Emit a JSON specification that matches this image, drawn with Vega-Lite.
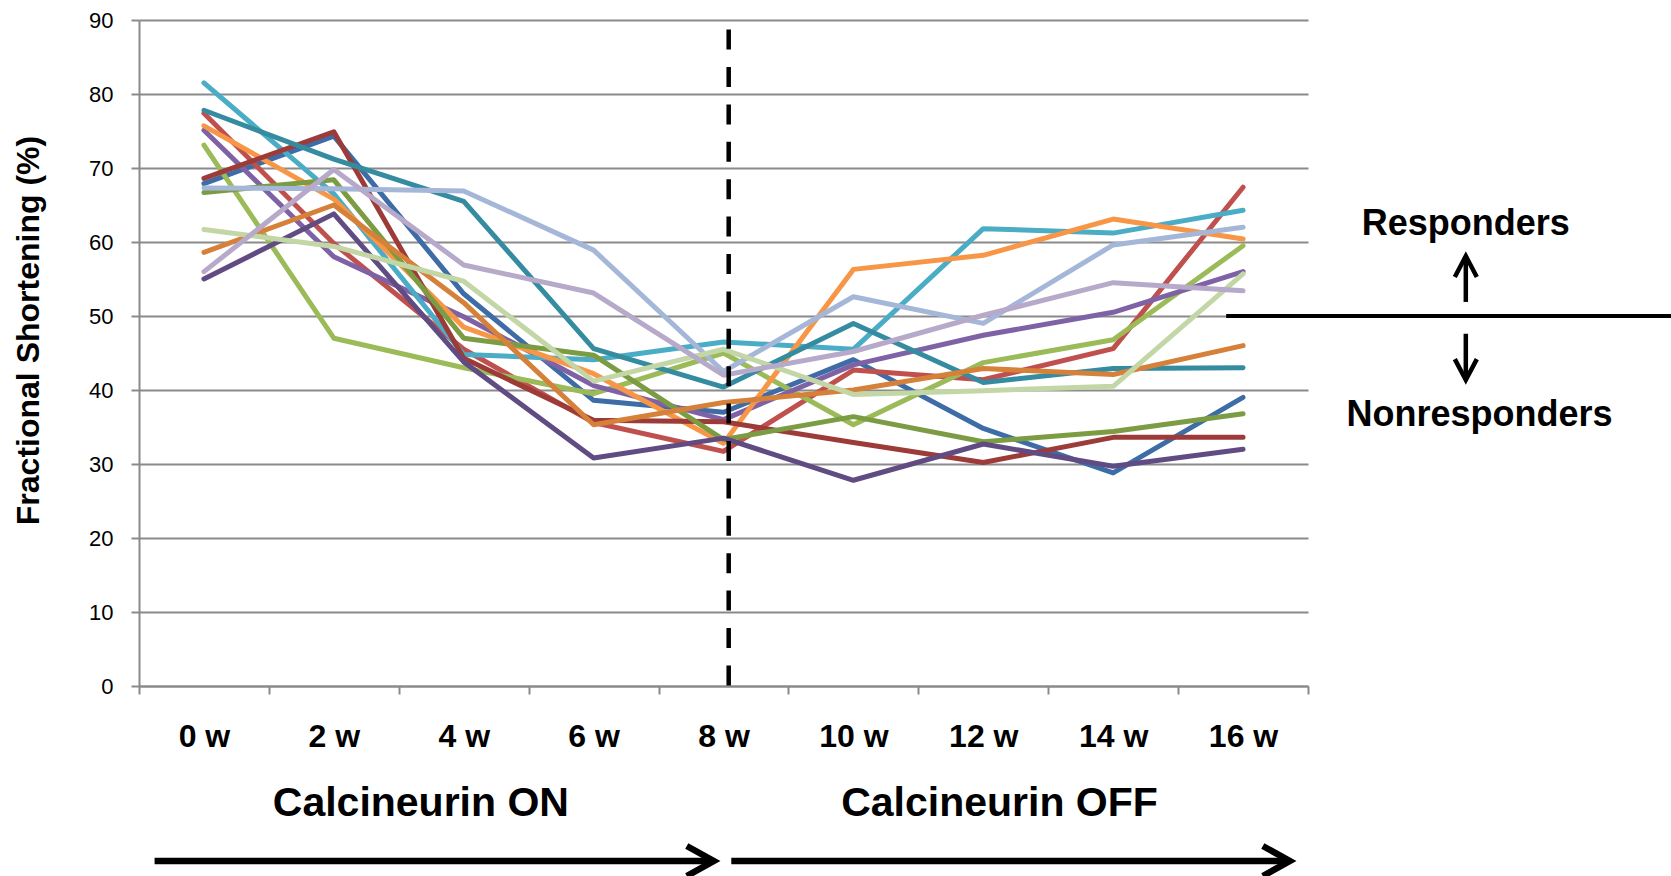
{
  "$schema": "https://vega.github.io/schema/vega-lite/v6.json",
  "width": 1169,
  "height": 666,
  "autosize": "none",
  "padding": {"left": 139, "top": 20, "right": 363, "bottom": 190},
  "background": "white",
  "config": {
    "view": {"stroke": null},
    "font": "Liberation Sans",
    "text": {"font": "Liberation Sans", "fontWeight": "bold", "color": "#000000"}
  },
  "datasets": {
    "fs": [
      {"mouse": "M1", "week": 0, "fs": 67.9}, {"mouse": "M1", "week": 2, "fs": 74.3}, {"mouse": "M1", "week": 4, "fs": 53.0}, {"mouse": "M1", "week": 6, "fs": 38.6}, {"mouse": "M1", "week": 8, "fs": 37.0}, {"mouse": "M1", "week": 10, "fs": 44.1}, {"mouse": "M1", "week": 12, "fs": 34.8}, {"mouse": "M1", "week": 14, "fs": 28.8}, {"mouse": "M1", "week": 16, "fs": 39.0},
      {"mouse": "M2", "week": 0, "fs": 77.4}, {"mouse": "M2", "week": 2, "fs": 59.8}, {"mouse": "M2", "week": 4, "fs": 45.5}, {"mouse": "M2", "week": 6, "fs": 35.6}, {"mouse": "M2", "week": 8, "fs": 31.7}, {"mouse": "M2", "week": 10, "fs": 42.7}, {"mouse": "M2", "week": 12, "fs": 41.4}, {"mouse": "M2", "week": 14, "fs": 45.6}, {"mouse": "M2", "week": 16, "fs": 67.4},
      {"mouse": "M3", "week": 0, "fs": 73.1}, {"mouse": "M3", "week": 2, "fs": 47.0}, {"mouse": "M3", "week": 4, "fs": 43.0}, {"mouse": "M3", "week": 6, "fs": 39.5}, {"mouse": "M3", "week": 8, "fs": 45.0}, {"mouse": "M3", "week": 10, "fs": 35.3}, {"mouse": "M3", "week": 12, "fs": 43.7}, {"mouse": "M3", "week": 14, "fs": 46.8}, {"mouse": "M3", "week": 16, "fs": 59.5},
      {"mouse": "M4", "week": 0, "fs": 75.1}, {"mouse": "M4", "week": 2, "fs": 58.0}, {"mouse": "M4", "week": 4, "fs": 49.9}, {"mouse": "M4", "week": 6, "fs": 40.6}, {"mouse": "M4", "week": 8, "fs": 36.0}, {"mouse": "M4", "week": 10, "fs": 43.4}, {"mouse": "M4", "week": 12, "fs": 47.4}, {"mouse": "M4", "week": 14, "fs": 50.5}, {"mouse": "M4", "week": 16, "fs": 56.0},
      {"mouse": "M5", "week": 0, "fs": 81.5}, {"mouse": "M5", "week": 2, "fs": 66.5}, {"mouse": "M5", "week": 4, "fs": 44.8}, {"mouse": "M5", "week": 6, "fs": 44.1}, {"mouse": "M5", "week": 8, "fs": 46.5}, {"mouse": "M5", "week": 10, "fs": 45.5}, {"mouse": "M5", "week": 12, "fs": 61.8}, {"mouse": "M5", "week": 14, "fs": 61.2}, {"mouse": "M5", "week": 16, "fs": 64.3},
      {"mouse": "M6", "week": 0, "fs": 75.7}, {"mouse": "M6", "week": 2, "fs": 65.8}, {"mouse": "M6", "week": 4, "fs": 48.5}, {"mouse": "M6", "week": 6, "fs": 42.2}, {"mouse": "M6", "week": 8, "fs": 32.8}, {"mouse": "M6", "week": 10, "fs": 56.3}, {"mouse": "M6", "week": 12, "fs": 58.2}, {"mouse": "M6", "week": 14, "fs": 63.1}, {"mouse": "M6", "week": 16, "fs": 60.4},
      {"mouse": "M7", "week": 0, "fs": 68.6}, {"mouse": "M7", "week": 2, "fs": 74.9}, {"mouse": "M7", "week": 4, "fs": 44.3}, {"mouse": "M7", "week": 6, "fs": 35.9}, {"mouse": "M7", "week": 8, "fs": 35.7}, {"mouse": "M7", "week": 10, "fs": 32.9}, {"mouse": "M7", "week": 12, "fs": 30.2}, {"mouse": "M7", "week": 14, "fs": 33.6}, {"mouse": "M7", "week": 16, "fs": 33.6},
      {"mouse": "M8", "week": 0, "fs": 66.7}, {"mouse": "M8", "week": 2, "fs": 68.4}, {"mouse": "M8", "week": 4, "fs": 47.0}, {"mouse": "M8", "week": 6, "fs": 44.7}, {"mouse": "M8", "week": 8, "fs": 33.3}, {"mouse": "M8", "week": 10, "fs": 36.4}, {"mouse": "M8", "week": 12, "fs": 33.0}, {"mouse": "M8", "week": 14, "fs": 34.4}, {"mouse": "M8", "week": 16, "fs": 36.8},
      {"mouse": "M9", "week": 0, "fs": 55.0}, {"mouse": "M9", "week": 2, "fs": 63.8}, {"mouse": "M9", "week": 4, "fs": 43.8}, {"mouse": "M9", "week": 6, "fs": 30.8}, {"mouse": "M9", "week": 8, "fs": 33.5}, {"mouse": "M9", "week": 10, "fs": 27.8}, {"mouse": "M9", "week": 12, "fs": 32.7}, {"mouse": "M9", "week": 14, "fs": 29.7}, {"mouse": "M9", "week": 16, "fs": 32.0},
      {"mouse": "M10", "week": 0, "fs": 77.8}, {"mouse": "M10", "week": 2, "fs": 71.2}, {"mouse": "M10", "week": 4, "fs": 65.5}, {"mouse": "M10", "week": 6, "fs": 45.6}, {"mouse": "M10", "week": 8, "fs": 40.4}, {"mouse": "M10", "week": 10, "fs": 49.0}, {"mouse": "M10", "week": 12, "fs": 41.0}, {"mouse": "M10", "week": 14, "fs": 42.9}, {"mouse": "M10", "week": 16, "fs": 43.0},
      {"mouse": "M11", "week": 0, "fs": 58.6}, {"mouse": "M11", "week": 2, "fs": 65.0}, {"mouse": "M11", "week": 4, "fs": 51.8}, {"mouse": "M11", "week": 6, "fs": 35.3}, {"mouse": "M11", "week": 8, "fs": 38.3}, {"mouse": "M11", "week": 10, "fs": 40.0}, {"mouse": "M11", "week": 12, "fs": 42.9}, {"mouse": "M11", "week": 14, "fs": 42.1}, {"mouse": "M11", "week": 16, "fs": 46.0},
      {"mouse": "M12", "week": 0, "fs": 67.3}, {"mouse": "M12", "week": 2, "fs": 67.2}, {"mouse": "M12", "week": 4, "fs": 66.9}, {"mouse": "M12", "week": 6, "fs": 58.9}, {"mouse": "M12", "week": 8, "fs": 42.5}, {"mouse": "M12", "week": 10, "fs": 52.6}, {"mouse": "M12", "week": 12, "fs": 49.0}, {"mouse": "M12", "week": 14, "fs": 59.6}, {"mouse": "M12", "week": 16, "fs": 62.0},
      {"mouse": "M13", "week": 0, "fs": 61.7}, {"mouse": "M13", "week": 2, "fs": 59.4}, {"mouse": "M13", "week": 4, "fs": 54.7}, {"mouse": "M13", "week": 6, "fs": 41.2}, {"mouse": "M13", "week": 8, "fs": 45.5}, {"mouse": "M13", "week": 10, "fs": 39.4}, {"mouse": "M13", "week": 12, "fs": 39.9}, {"mouse": "M13", "week": 14, "fs": 40.5}, {"mouse": "M13", "week": 16, "fs": 55.7},
      {"mouse": "M14", "week": 0, "fs": 56.0}, {"mouse": "M14", "week": 2, "fs": 69.8}, {"mouse": "M14", "week": 4, "fs": 56.9}, {"mouse": "M14", "week": 6, "fs": 53.1}, {"mouse": "M14", "week": 8, "fs": 42.0}, {"mouse": "M14", "week": 10, "fs": 45.2}, {"mouse": "M14", "week": 12, "fs": 50.1}, {"mouse": "M14", "week": 14, "fs": 54.5}, {"mouse": "M14", "week": 16, "fs": 53.4}
    ],
    "switch": [{"week": 8.08, "from": 88.7, "to": 0}],
    "cutoff": [{"from": 15.74, "to": 22.7, "fs": 50}],
    "groups": [
      {"label": "Responders", "week": 19.43, "fs": 62.4},
      {"label": "Nonresponders", "week": 19.64, "fs": 36.6}
    ],
    "split": [
      {"dir": "up", "week": 19.43, "from": 51.9, "to": 58.1},
      {"dir": "down", "week": 19.43, "from": 47.6, "to": 41.35}
    ],
    "phases": [
      {"label": "Calcineurin ON", "week": 3.34, "fs": -16.0},
      {"label": "Calcineurin OFF", "week": 12.25, "fs": -16.0}
    ],
    "timeline": [
      {"start": -0.76, "end": 7.85, "fs": -23.65, "dir": "right"},
      {"start": 8.12, "end": 16.72, "fs": -23.65, "dir": "right"}
    ]
  },
  "layer": [
    {
      "data": {"name": "fs"},
      "mark": {"type": "line", "strokeWidth": 5, "strokeCap": "round", "strokeJoin": "round"},
      "encoding": {
        "x": {
          "field": "week", "type": "quantitative",
          "scale": {"domain": [-1, 17], "nice": false, "zero": false},
          "axis": {
            "title": null,
            "values": [-1, 0, 1, 2, 3, 4, 5, 6, 7, 8, 9, 10, 11, 12, 13, 14, 15, 16, 17],
            "labelExpr": "datum.value % 2 === 0 ? datum.value + ' w' : ''",
            "grid": false,
            "domainColor": "#8a8a8a", "domainWidth": 2,
            "tickSize": 8, "tickWidth": 2,
            "tickColor": {"condition": {"test": "datum.value % 2 !== 0", "value": "#8a8a8a"}, "value": "rgba(0,0,0,0)"},
            "labelFont": "Liberation Sans", "labelFontSize": 32, "labelFontWeight": "bold", "labelColor": "#000000",
            "labelPadding": 27, "labelFlush": false, "labelOverlap": false
          }
        },
        "y": {
          "field": "fs", "type": "quantitative",
          "scale": {"domain": [0, 90], "nice": false, "zero": true},
          "axis": {
            "title": "Fractional Shortening (%)",
            "values": [0, 10, 20, 30, 40, 50, 60, 70, 80, 90],
            "grid": true, "gridColor": "#8a8a8a", "gridWidth": 2,
            "domainColor": "#8a8a8a", "domainWidth": 2,
            "tickColor": "#8a8a8a", "tickWidth": 2, "tickSize": 8,
            "labelFont": "Liberation Sans", "labelFontSize": 22, "labelColor": "#000000", "labelPadding": 18,
            "titleFont": "Liberation Sans", "titleFontSize": 32, "titleFontWeight": "bold", "titleColor": "#000000",
            "titleAngle": -90, "titleAlign": "center", "titleBaseline": "middle",
            "titleX": -111, "titleY": 310
          }
        },
        "color": {
          "field": "mouse", "type": "nominal", "legend": null,
          "scale": {
            "domain": ["M1", "M2", "M3", "M4", "M5", "M6", "M7", "M8", "M9", "M10", "M11", "M12", "M13", "M14"],
            "range": ["#3d6ca6", "#c0504d", "#9bbb59", "#7f62a5", "#4bacc6", "#f79646", "#9c3b38", "#7c9c44", "#604b82", "#358ca0", "#d6813a", "#a5b7d8", "#c3d6a6", "#b6a9c9"]
          }
        }
      }
    },
    {
      "data": {"name": "switch"},
      "mark": {"type": "rule", "color": "#000000", "strokeWidth": 4.5, "strokeDash": [20, 17.4]},
      "encoding": {
        "x": {"field": "week", "type": "quantitative", "scale": {"domain": [-1, 17], "nice": false, "zero": false}},
        "y": {"field": "from", "type": "quantitative", "scale": {"domain": [0, 90], "nice": false}},
        "y2": {"field": "to"}
      }
    },
    {
      "data": {"name": "cutoff"},
      "mark": {"type": "rule", "color": "#000000", "strokeWidth": 4},
      "encoding": {
        "x": {"field": "from", "type": "quantitative", "scale": {"domain": [-1, 17], "nice": false, "zero": false}},
        "x2": {"field": "to"},
        "y": {"field": "fs", "type": "quantitative", "scale": {"domain": [0, 90], "nice": false}}
      }
    },
    {
      "data": {"name": "groups"},
      "mark": {"type": "text", "fontSize": 36, "align": "center", "baseline": "middle"},
      "encoding": {
        "x": {"field": "week", "type": "quantitative", "scale": {"domain": [-1, 17], "nice": false, "zero": false}},
        "y": {"field": "fs", "type": "quantitative", "scale": {"domain": [0, 90], "nice": false}},
        "text": {"field": "label"}
      }
    },
    {
      "data": {"name": "split"},
      "mark": {"type": "rule", "color": "#000000", "strokeWidth": 4.5},
      "encoding": {
        "x": {"field": "week", "type": "quantitative", "scale": {"domain": [-1, 17], "nice": false, "zero": false}},
        "y": {"field": "from", "type": "quantitative", "scale": {"domain": [0, 90], "nice": false}},
        "y2": {"field": "to"}
      }
    },
    {
      "data": {"name": "split"},
      "mark": {"type": "point", "filled": false, "stroke": "#000000", "strokeWidth": 4.5, "size": 484, "opacity": 1, "strokeJoin": "miter"},
      "encoding": {
        "x": {"field": "week", "type": "quantitative", "scale": {"domain": [-1, 17], "nice": false, "zero": false}},
        "y": {"field": "to", "type": "quantitative", "scale": {"domain": [0, 90], "nice": false}},
        "shape": {"field": "dir", "type": "nominal", "legend": null,
          "scale": {"domain": ["right", "up", "down"], "range": ["M-1.8,-1L0,0L-1.8,1", "M-1,1.9L0,0L1,1.9", "M-1,-1.9L0,0L1,-1.9"]}}
      }
    },
    {
      "data": {"name": "phases"},
      "mark": {"type": "text", "fontSize": 41, "align": "center", "baseline": "middle"},
      "encoding": {
        "x": {"field": "week", "type": "quantitative", "scale": {"domain": [-1, 17], "nice": false, "zero": false}},
        "y": {"field": "fs", "type": "quantitative", "scale": {"domain": [0, 90], "nice": false}},
        "text": {"field": "label"}
      }
    },
    {
      "data": {"name": "timeline"},
      "mark": {"type": "rule", "color": "#000000", "strokeWidth": 6.5},
      "encoding": {
        "x": {"field": "start", "type": "quantitative", "scale": {"domain": [-1, 17], "nice": false, "zero": false}},
        "x2": {"field": "end"},
        "y": {"field": "fs", "type": "quantitative", "scale": {"domain": [0, 90], "nice": false}}
      }
    },
    {
      "data": {"name": "timeline"},
      "mark": {"type": "point", "filled": false, "stroke": "#000000", "strokeWidth": 6.5, "size": 900, "opacity": 1, "strokeJoin": "miter"},
      "encoding": {
        "x": {"field": "end", "type": "quantitative", "scale": {"domain": [-1, 17], "nice": false, "zero": false}},
        "y": {"field": "fs", "type": "quantitative", "scale": {"domain": [0, 90], "nice": false}},
        "shape": {"field": "dir", "type": "nominal", "legend": null,
          "scale": {"domain": ["right", "up", "down"], "range": ["M-1.8,-1L0,0L-1.8,1", "M-1,1.9L0,0L1,1.9", "M-1,-1.9L0,0L1,-1.9"]}}
      }
    }
  ]
}
